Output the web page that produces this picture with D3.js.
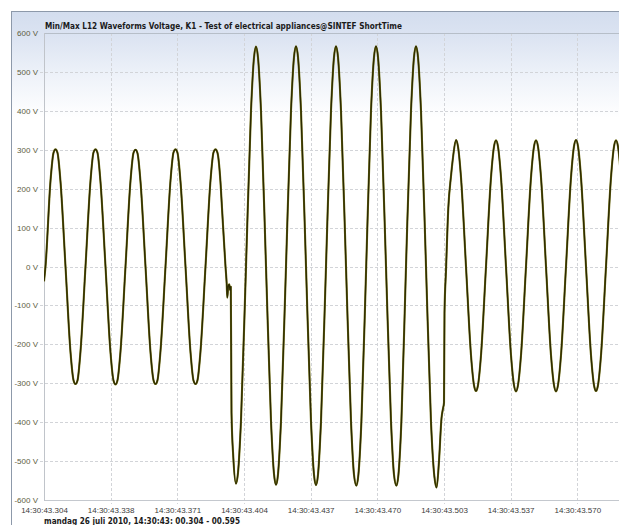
<!DOCTYPE html>
<html><head><meta charset="utf-8">
<script src="https://cdn.jsdelivr.net/npm/d3@7/dist/d3.min.js"></script>
<style>html,body{margin:0;padding:0;background:#fff;overflow:hidden}</style>
</head><body>
<script>
// ---- data ----
const chartTitle = "Min/Max L12 Waveforms Voltage, K1 - Test of electrical appliances@SINTEF ShortTime";
const caption = "mandag 26 juli 2010, 14:30:43: 00.304 - 00.595";
const timeDomainMs = [304, 595];
const voltDomain = [-600, 600];
const yTickValues = [-600, -500, -400, -300, -200, -100, 0, 100, 200, 300, 400, 500, 600];
const xTickValues = [304, 337.33, 370.67, 404, 437.33, 470.67, 504, 537.33, 570.67];
const xTickLabels = ["14:30:43.304","14:30:43.338","14:30:43.371","14:30:43.404","14:30:43.437","14:30:43.470","14:30:43.503","14:30:43.537","14:30:43.570"];
// waveform samples: time (ms after 14:30:43) and voltage (V)
const waveTimeMs = [
 304.0,304.75,
 307.25,308.75,309.75,310.75,312.25,314.75,317.25,318.75,319.75,320.75,322.25,324.75,
 327.25,328.75,329.75,330.75,332.25,334.75,337.25,338.75,339.75,340.75,342.25,344.75,
 347.25,348.75,349.75,350.75,352.25,354.75,357.25,358.75,359.75,360.75,362.25,364.75,
 367.25,368.75,369.75,370.75,372.25,374.75,377.25,378.75,379.75,380.75,382.25,384.75,
 387.25,388.75,389.75,390.75,392.25,393.0,394.75,395.35,395.65,396.15,396.65,397.0,397.4,397.75,398.65,400.0,
 401.0,402.5,405.0,407.5,409.0,410.0,411.0,412.5,415.0,417.5,419.0,420.0,421.0,422.5,
 425.0,427.5,429.0,430.0,431.0,432.5,435.0,437.5,439.0,440.0,441.0,442.5,
 445.0,447.5,449.0,450.0,451.0,452.5,455.0,457.5,459.0,460.2,461.2,462.7,
 465.1,467.5,469.0,470.0,471.0,472.5,475.0,477.5,479.0,480.2,481.2,482.7,
 485.0,487.5,489.0,490.0,491.0,492.5,495.0,497.5,499.2,500.3,
 501.5,502.75,503.5,504.0,504.25,505.0,506.15,507.5,508.5,510.0,
 511.0,512.5,515.0,517.5,519.0,520.0,521.0,522.5,
 525.0,527.5,529.0,530.0,531.0,532.5,535.0,537.5,539.0,540.0,541.0,542.5,
 545.0,547.5,549.0,550.0,551.0,552.5,555.0,557.5,559.0,560.0,561.0,562.5,
 565.0,567.5,569.0,570.0,571.0,572.5,575.0,577.5,579.0,580.0,581.0,582.5,
 585.0,587.5,589.0,590.0,591.0,592.5,595.0
];
const waveVolts = [
 -38,0,
 220,292,301,292,218,0,-220,-292,-302,-293,-218,0,
 220,293,301,292,217,0,-221,-293,-303,-292,-218,0,
 220,292,300,291,218,0,-220,-292,-302,-292,-217,0,
 221,293,301,292,218,0,-220,-293,-302,-292,-218,0,
 221,293,301,292,216,150,0,-45,-80,-50,-46,-60,-52,-375,-490,-558,
 -530,-395,0,400,537,565,537,400,0,-397,-533,-561,-534,-397,
 0,400,538,566,538,400,0,-398,-535,-562,-535,-398,
 0,400,538,566,538,400,0,-398,-535,-563,-535,-398,
 0,400,538,566,538,400,0,-398,-535,-563,-536,-398,
 0,400,538,566,538,400,0,-400,-540,-568,
 -500,-390,-365,-350,-120,-10,150,232,280,325,
 308,229,0,-228,-305,-320,-305,-228,
 0,229,308,324,308,229,0,-228,-305,-321,-305,-228,
 0,229,308,324,308,229,0,-228,-305,-321,-305,-228,
 0,229,309,325,309,229,0,-228,-305,-320,-305,-228,
 0,229,308,324,308,229,0
];

// ---- drawing ----
const W = 619, H = 525;
const mLeft = 44, mTop = 33, mBottom = 500, mRight = 626;
const svg = d3.select("body").append("svg").attr("width", W).attr("height", H)
  .style("display","block");

const defs = svg.append("defs");
const grad = defs.append("linearGradient").attr("id","bg")
  .attr("gradientUnits","userSpaceOnUse").attr("x1",0).attr("x2",0).attr("y1",11).attr("y2",118);
grad.append("stop").attr("offset","0").attr("stop-color","#d3ddee");
grad.append("stop").attr("offset","0.25").attr("stop-color","#dce4f2");
grad.append("stop").attr("offset","0.6").attr("stop-color","#eef2f9");
grad.append("stop").attr("offset","1").attr("stop-color","#ffffff");
defs.append("clipPath").attr("id","plotclip").append("rect")
  .attr("x", mLeft).attr("y", mTop - 10).attr("width", W - mLeft).attr("height", mBottom - mTop + 20);

svg.append("rect").attr("x",11).attr("y",11).attr("width",W-11).attr("height",H-11).attr("fill","url(#bg)");
svg.append("line").attr("x1",11.5).attr("x2",11.5).attr("y1",11).attr("y2",H).attr("stroke","#8d99aa");
svg.append("line").attr("x1",11).attr("x2",W).attr("y1",11.5).attr("y2",11.5).attr("stroke","#8d99aa");

const x = d3.scaleLinear().domain(timeDomainMs).range([mLeft, mRight]);
const y = d3.scaleLinear().domain(voltDomain).range([mBottom, mTop]);

// horizontal gridlines
svg.append("g").selectAll("line").data(yTickValues.filter(v => v > voltDomain[0] && v < voltDomain[1]))
  .join("line")
  .attr("x1", mLeft - 4).attr("x2", W)
  .attr("y1", d => Math.round(y(d)) + 0.5).attr("y2", d => Math.round(y(d)) + 0.5)
  .attr("stroke", "#d2d4d8").attr("stroke-dasharray", "3,2");
// vertical gridlines
svg.append("g").selectAll("line").data(xTickValues.slice(1))
  .join("line")
  .attr("x1", d => Math.round(x(d)) + 0.5).attr("x2", d => Math.round(x(d)) + 0.5)
  .attr("y1", mTop).attr("y2", mBottom + 4)
  .attr("stroke", "#d2d4d8").attr("stroke-dasharray", "3,2");

// plot frame lines
svg.append("line").attr("x1", mLeft).attr("x2", W).attr("y1", mTop + 0.5).attr("y2", mTop + 0.5).attr("stroke", "#b6bec8");
svg.append("line").attr("x1", mLeft).attr("x2", W).attr("y1", mBottom + 0.5).attr("y2", mBottom + 0.5).attr("stroke", "#c4c8ce");
svg.append("line").attr("x1", mLeft + 0.5).attr("x2", mLeft + 0.5).attr("y1", mTop).attr("y2", mBottom + 1).attr("stroke", "#c0c4ca");

// axes (labels)
const yAxis = svg.append("g").attr("transform", `translate(${mLeft},0)`)
  .call(d3.axisLeft(y).tickValues(yTickValues).tickFormat(d => `${d} V`).tickSize(0).tickPadding(6));
yAxis.select(".domain").remove();
yAxis.selectAll("text").attr("fill", "#5c5c42").style("font", "8px 'Liberation Sans', Arial, sans-serif");

const xAxis = svg.append("g").attr("transform", `translate(0,${mBottom})`)
  .call(d3.axisBottom(x).tickValues(xTickValues).tickFormat((d, i) => xTickLabels[i]).tickSize(0).tickPadding(7));
xAxis.select(".domain").remove();
xAxis.selectAll("text").attr("fill", "#3c3c3c").style("font", "8px 'Liberation Sans', Arial, sans-serif");

// title & caption
svg.append("text").attr("x", 45).attr("y", 28.5).text(chartTitle)
  .attr("textLength", 357).attr("lengthAdjust", "spacingAndGlyphs")
  .style("font", "bold 8.5px 'DejaVu Sans', Verdana, sans-serif").attr("fill", "#1b1b1b");
svg.append("text").attr("x", 44).attr("y", 524).text(caption)
  .attr("textLength", 196).attr("lengthAdjust", "spacingAndGlyphs")
  .style("font", "bold 8.5px 'DejaVu Sans', Verdana, sans-serif").attr("fill", "#1b1b1b");

// waveform
const pts = waveTimeMs.map((t, i) => [t, waveVolts[i]]);
const line = d3.line().x(d => x(d[0])).y(d => y(d[1])).curve(d3.curveMonotoneX);
const g = svg.append("g").attr("clip-path", "url(#plotclip)");
g.append("path").attr("d", line(pts)).attr("fill", "none")
  .attr("stroke", "#77741a").attr("stroke-width", 2.1).attr("stroke-linejoin", "round");
g.append("path").attr("d", line(pts)).attr("fill", "none")
  .attr("stroke", "#2c2a00").attr("stroke-width", 1.35).attr("stroke-linejoin", "round");
</script>
</body></html>
